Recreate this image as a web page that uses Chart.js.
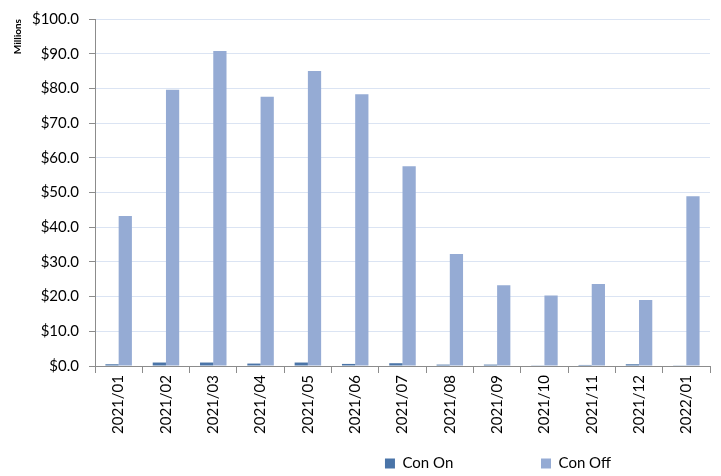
<!DOCTYPE html>
<html>
<head>
<meta charset="utf-8">
<script src="https://cdn.jsdelivr.net/npm/chart.js@4"></script>
<style>
  html, body { margin: 0; padding: 0; background: #fff; }
  #wrap { width: 721px; height: 476px; }
</style>
</head>
<body>
<div id="wrap"><canvas id="conChart"></canvas></div>
<script>
const months = ["2021/01", "2021/02", "2021/03", "2021/04", "2021/05", "2021/06", "2021/07",
  "2021/08", "2021/09", "2021/10", "2021/11", "2021/12", "2022/01"];
const conOn = [0.5, 1.0, 1.0, 0.7, 1.0, 0.6, 0.8, 0.4, 0.4, 0.2, 0.3, 0.5, 0.2];
const conOff = [43.2, 79.6, 90.8, 77.6, 85.0, 78.3, 57.6, 32.3, 23.3, 20.3, 23.6, 19.0, 48.9];
const yTicks = [0, 10, 20, 30, 40, 50, 60, 70, 80, 90, 100];

const fontFamily = "Lato, 'Open Sans', sans-serif";
Chart.defaults.font.family = fontFamily;
Chart.defaults.color = "#000";

// push the legend to the right and a bit lower like the original
const shiftLegend = {
  id: "shiftLegend",
  afterLayout(chart) {
    const lg = chart.legend;
    if (lg) {
      lg.left += 143;
      lg.right += 143;
      lg.top += 5;
      lg.bottom += 5;
    }
  },
};

const ctx = document.getElementById("conChart").getContext("2d");

const conChart = new Chart(ctx, {
  type: "bar",
  data: {
    labels: months,
    datasets: [
      {
        label: "Con On",
        data: conOn,
        backgroundColor: "#4a74a8",
        borderWidth: 0,
      },
      {
        label: "Con Off",
        data: conOff,
        backgroundColor: "#95abd4",
        borderWidth: 0,
      },
    ],
  },
  options: {
    responsive: true,
    maintainAspectRatio: false,
    animation: false,
    layout: { padding: { top: 15, right: 11, left: 0, bottom: 0 } },
    datasets: {
      bar: { categoryPercentage: 0.56, barPercentage: 1.0 },
    },
    plugins: {
      legend: {
        position: "bottom",
        labels: {
          boxWidth: 10,
          boxHeight: 10,
          padding: 9,
          font: { size: 15 },
          color: "#000",
          generateLabels(chart) {
            const items = Chart.defaults.plugins.legend.labels.generateLabels(chart);
            // wide gap between the two entries
            items[0].text = items[0].text + "\u2003".repeat(7);
            return items;
          },
        },
      },
      tooltip: { enabled: false },
    },
    scales: {
      x: {
        grid: {
          offset: true,
          drawOnChartArea: false,
          tickLength: 7,
          color: "#8c8c8c",
        },
        border: { color: "#8c8c8c" },
        ticks: {
          minRotation: 90,
          maxRotation: 90,
          font: { size: 15 },
          color: "#000",
          padding: 2,
        },
        afterFit(scale) {
          scale.height = 76;
        },
      },
      y: {
        min: 0,
        max: 100,
        afterBuildTicks(scale) {
          scale.ticks = yTicks.map((v) => ({ value: v }));
        },
        grid: {
          color: "#dbe4f3",
          tickColor: "#8c8c8c",
          tickLength: 6,
        },
        border: { color: "#8c8c8c" },
        ticks: {
          font: { size: 15 },
          color: "#000",
          padding: 10,
          callback: (v) => "$" + Number(v).toFixed(1),
        },
        title: {
          display: true,
          text: "Millions",
          align: "end",
          font: { size: 10, weight: "bold" },
          color: "#000",
          padding: { top: 12, bottom: 0 },
        },
        afterFit(scale) {
          scale.width = 95;
        },
      },
    },
  },
  plugins: [shiftLegend],
});
</script>
</body>
</html>
